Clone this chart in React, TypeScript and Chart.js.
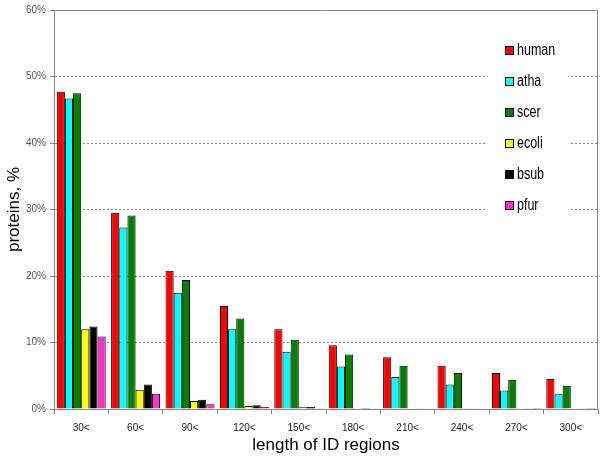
import React, { useEffect, useRef } from 'react';
import { Chart, registerables } from 'chart.js';

Chart.register(...registerables);

const categories = ['30<', '60<', '90<', '120<', '150<', '180<', '210<', '240<', '270<', '300<'];
const human = [47.7, 29.5, 20.8, 15.5, 12.0, 9.6, 7.8, 6.5, 5.4, 4.5];
const atha = [46.7, 27.3, 17.5, 12.0, 8.6, 6.4, 4.8, 3.7, 2.8, 2.2];
const scer = [47.5, 29.1, 19.4, 13.6, 10.4, 8.2, 6.5, 5.4, 4.4, 3.5];
const ecoli = [12.0, 2.9, 1.2, 0.45, 0.25, 0.1, 0.06, 0.04, 0.03, 0.02];
const bsub = [12.4, 3.7, 1.4, 0.55, 0.3, 0.15, 0.1, 0.05, 0.03, 0.02];
const pfur = [10.9, 2.3, 0.7, 0.3, 0.1, 0.05, 0.03, 0.02, 0.01, 0.01];
const seriesNames = ['human', 'atha', 'scer', 'ecoli', 'bsub', 'pfur'];
const seriesColors = ['#ff0000', '#00ffff', '#008000', '#ffff00', '#000000', '#ff33cc'];
const yTicks = [0, 10, 20, 30, 40, 50, 60];

const FONT = 'Arial, "Liberation Sans", sans-serif';

const framePlugin = {
  id: 'frame',
  afterDraw(chart: any) {
    const { ctx, chartArea } = chart;
    ctx.save();
    ctx.strokeStyle = '#888';
    ctx.lineWidth = 1;
    ctx.beginPath();
    const t = Math.round(chartArea.top) + 0.5;
    const r = Math.round(chartArea.right) - 0.5;
    ctx.moveTo(chartArea.left, t);
    ctx.lineTo(r, t);
    ctx.lineTo(r, chartArea.bottom);
    ctx.stroke();
    ctx.restore();
  },
};

const legendPlugin = {
  id: 'customLegend',
  afterDatasetsDraw(chart: any) {
    const { ctx, chartArea } = chart;
    const x0 = chartArea.right - 113;
    ctx.save();
    ctx.fillStyle = '#ffffff';
    ctx.fillRect(x0, 30, 85, 200);
    ctx.font = '16px ' + FONT;
    ctx.textBaseline = 'middle';
    ctx.textAlign = 'left';
    chart.data.datasets.forEach((ds: any, i: number) => {
      const cy = 50 + i * 31;
      const bx = x0 + 20;
      ctx.fillStyle = ds.backgroundColor;
      ctx.fillRect(bx, cy - 4, 8, 8);
      ctx.strokeStyle = '#000';
      ctx.lineWidth = 1;
      ctx.strokeRect(bx + 0.5, cy - 3.5, 8, 8);
      ctx.fillStyle = '#000';
      ctx.save();
      ctx.translate(bx + 12, cy + 1);
      ctx.scale(0.78, 1);
      ctx.fillText(ds.label, 0, 0);
      ctx.restore();
    });
    ctx.restore();
  },
};

export default function App() {
  const ref = useRef<HTMLCanvasElement | null>(null);

  useEffect(() => {
    document.body.style.margin = '0';
    if (!ref.current) return;
    const data = [human, atha, scer, ecoli, bsub, pfur];
    const chart = new Chart(ref.current, {
      type: 'bar',
      data: {
        labels: categories,
        datasets: data.map((d, i) => ({
          label: seriesNames[i],
          data: d,
          backgroundColor: seriesColors[i],
          borderColor: '#000',
          borderWidth: 1,
          barPercentage: 1,
          categoryPercentage: 0.9,
        })),
      },
      options: {
        animation: false,
        responsive: true,
        maintainAspectRatio: false,
        layout: { padding: { top: 8, right: 2, left: 0, bottom: 0 } },
        plugins: {
          legend: { display: false },
          tooltip: { enabled: false },
        },
        scales: {
          x: {
            offset: true,
            grid: {
              offset: true,
              drawOnChartArea: false,
              drawTicks: true,
              tickLength: 5,
              color: '#888',
            },
            border: { display: true, color: '#888', width: 1 },
            ticks: {
              color: '#222',
              font: { family: FONT, size: 10 },
              padding: 8,
              maxRotation: 0,
            },
            title: {
              display: true,
              text: 'length of ID regions',
              color: '#000',
              font: { family: FONT, size: 17 },
              padding: { top: 0, bottom: 4 },
            },
            afterFit: (scale: any) => {
              scale.height = 51;
            },
          },
          y: {
            min: 0,
            max: 60,
            afterBuildTicks: (scale: any) => {
              scale.ticks = yTicks.map((v) => ({ value: v }));
            },
            grid: {
              color: (c: any) => (c.tick && (c.tick.value === 60 || c.tick.value === 0) ? 'rgba(0,0,0,0)' : '#888'),
              tickColor: '#888',
              drawTicks: true,
              tickLength: 4,
            },
            border: { display: true, color: '#888', width: 1, dash: [2, 2] },
            ticks: {
              color: '#555',
              font: { family: FONT, size: 10 },
              padding: 4,
              callback: (v: any) => v + '%',
            },
            title: {
              display: true,
              text: 'proteins, %',
              color: '#000',
              font: { family: FONT, size: 17 },
              padding: { top: 4, bottom: 0 },
            },
            afterFit: (scale: any) => {
              scale.width = 54;
            },
          },
        },
      },
      plugins: [framePlugin, legendPlugin],
    });
    return () => chart.destroy();
  }, []);

  return (
    <div style={{ position: 'absolute', left: 0, top: 0, width: 600, height: 460 }}>
      <canvas ref={ref} />
    </div>
  );
}
